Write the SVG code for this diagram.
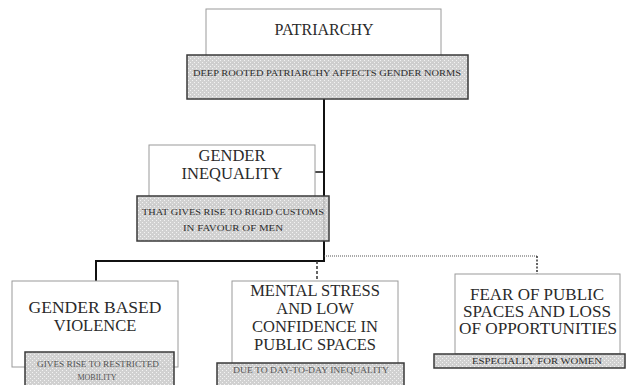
<svg xmlns="http://www.w3.org/2000/svg" width="628" height="385" viewBox="0 0 628 385">
<defs>
<pattern id="dots" width="4" height="4" patternUnits="userSpaceOnUse">
<rect width="4" height="4" fill="#cdcdcd"/>
<rect x="0" y="0" width="1" height="1" fill="#f2f2f2"/>
<rect x="2" y="2" width="1" height="1" fill="#f2f2f2"/>
</pattern>
</defs>
<style>
.wb{fill:#fff;stroke:#9a9a9a;stroke-width:1}
.gb{fill:url(#dots);stroke:#3a3a3a;stroke-width:1.5;fill-opacity:0.92}
.t{font-family:'Liberation Serif','DejaVu Serif',serif;fill:#2a2a2a;text-anchor:middle}
.big{font-size:16.5px}
.mid{font-size:16px}
.s{fill:#555}
.solid{fill:none;stroke:#111;stroke-width:2}
.thin{fill:none;stroke:#111;stroke-width:1.5}
</style>
<rect width="628" height="385" fill="#fff"/>
<g id="connectors">
<path class="solid" d="M324 99 V261 H96 V281"/>
<path class="thin" d="M315 172 H324"/>
<path d="M324 256 H537" fill="none" stroke="#555" stroke-width="1.2" stroke-dasharray="1,1"/>
<path d="M537 256 V274" fill="none" stroke="#333" stroke-width="1.5" stroke-dasharray="2,1.5"/>
<path d="M317 261 V281" fill="none" stroke="#333" stroke-width="1.5" stroke-dasharray="3,2"/>
</g>
<g id="patriarchy">
<rect class="wb" x="206" y="9" width="235" height="54"/>
<text class="t" x="324" y="35" font-size="16">PATRIARCHY</text>
<rect class="gb" x="187" y="55" width="281" height="44"/>
<text class="t" x="327" y="76" font-size="9" textLength="268" lengthAdjust="spacingAndGlyphs">DEEP ROOTED PATRIARCHY AFFECTS GENDER NORMS</text>
</g>
<g id="gender-inequality">
<rect class="wb" x="149" y="145" width="166" height="60"/>
<text class="t big" x="232" y="161">GENDER</text>
<text class="t big" x="232" y="179">INEQUALITY</text>
<rect class="gb" x="137" y="196" width="192" height="45"/>
<text class="t" x="233" y="215" font-size="9" textLength="182" lengthAdjust="spacingAndGlyphs">THAT GIVES RISE TO RIGID CUSTOMS</text>
<text class="t" x="233" y="231" font-size="9" textLength="100" lengthAdjust="spacingAndGlyphs">IN FAVOUR OF MEN</text>
</g>
<g id="gender-based-violence">
<rect class="wb" x="12" y="281" width="166" height="86"/>
<text class="t big" x="95" y="313" textLength="133" lengthAdjust="spacingAndGlyphs">GENDER BASED</text>
<text class="t big" x="95" y="331">VIOLENCE</text>
<rect class="gb" x="25" y="352" width="149" height="40"/>
<text class="t s" x="98" y="367" font-size="8" textLength="122" lengthAdjust="spacingAndGlyphs">GIVES RISE TO RESTRICTED</text>
<text class="t s" x="97" y="380" font-size="8">MOBILITY</text>
</g>
<g id="mental-stress">
<rect class="wb" x="232" y="281" width="166" height="84"/>
<text class="t big" x="315" y="296">MENTAL STRESS</text>
<text class="t big" x="315" y="314">AND LOW</text>
<text class="t big" x="315" y="332">CONFIDENCE IN</text>
<text class="t big" x="315" y="350">PUBLIC SPACES</text>
<rect class="gb" x="217" y="363" width="187" height="30"/>
<text class="t s" x="311" y="373" font-size="8" textLength="156" lengthAdjust="spacingAndGlyphs">DUE TO DAY-TO-DAY INEQUALITY</text>
</g>
<g id="fear-public-spaces">
<rect class="wb" x="455" y="274" width="165" height="80"/>
<text class="t mid" x="537" y="300" textLength="134" lengthAdjust="spacingAndGlyphs">FEAR OF PUBLIC</text>
<text class="t mid" x="537" y="317" textLength="148" lengthAdjust="spacingAndGlyphs">SPACES AND LOSS</text>
<text class="t mid" x="538" y="334" textLength="158" lengthAdjust="spacingAndGlyphs">OF OPPORTUNITIES</text>
<rect class="gb" x="434" y="354" width="191" height="14"/>
<text class="t" x="537" y="364" font-size="9" textLength="130" lengthAdjust="spacingAndGlyphs">ESPECIALLY  FOR WOMEN</text>
</g>
</svg>
